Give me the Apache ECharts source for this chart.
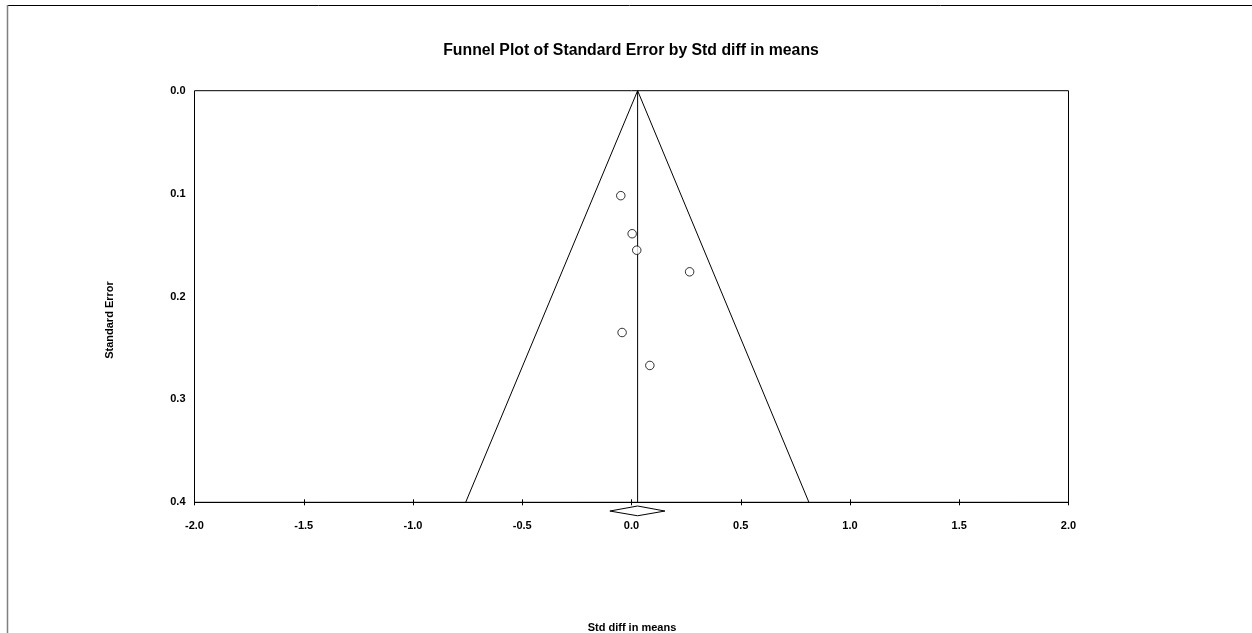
<!DOCTYPE html>
<html>
<head>
<meta charset="utf-8">
<style>
html,body{margin:0;padding:0;background:#fff;}
#chart{width:1252px;height:633px;}
</style>
<script src="https://cdn.jsdelivr.net/npm/echarts@6/dist/echarts.min.js"></script>
</head>
<body>
<div id="chart"></div>
<script>
// Study points: [Std diff in means, Standard Error]
var studyEffects = [-0.049, 0.003, 0.024, 0.266, -0.043, 0.084];
var studyStdErrors = [0.102, 0.139, 0.155, 0.176, 0.235, 0.267];
// Summary effect and funnel (95% limits at SE 0.4)
var summaryEffect = 0.028;
var funnelX = [-0.759, 0.028, 0.812];
var funnelY = [0.4, 0.0, 0.4];
// Summary diamond (below the axis)
var diamondX = [-0.099, 0.028, 0.153, 0.028, -0.099];
var diamondY = [0.4085, 0.4036, 0.4085, 0.4131, 0.4085];
var xTicks = [-2.0, -1.5, -1.0, -0.5, 0.0, 0.5, 1.0, 1.5, 2.0];
var yTicks = [0.0, 0.1, 0.2, 0.3, 0.4];

var FONT = '"Liberation Sans", Arial, sans-serif';
var chart = echarts.init(document.getElementById('chart'), null, {renderer: 'canvas'});

function zip(a, b) { return a.map(function (v, i) { return [v, b[i]]; }); }

var option = {
  animation: false,
  backgroundColor: '#ffffff',
  title: {
    text: 'Funnel Plot of Standard Error by Std diff in means',
    left: 626, top: 38, textAlign: 'center',
    textStyle: {fontFamily: FONT, fontSize: 15.8, fontWeight: 'bold', color: '#000'}
  },
  grid: {
    left: 194.5, right: 183.5, top: 90.7, bottom: 130.7,
    show: true, borderColor: '#000', borderWidth: 1, backgroundColor: 'transparent'
  },
  xAxis: [{
    type: 'value', min: xTicks[0], max: xTicks[xTicks.length - 1], interval: 0.5,
    position: 'bottom',
    axisLine: {show: true, onZero: false, lineStyle: {color: '#000', width: 1}},
    axisTick: {show: true, inside: false, length: 3, lineStyle: {color: '#000'}},
    splitLine: {show: false},
    axisLabel: {
      margin: 18, fontFamily: FONT, fontSize: 11, fontWeight: 'bold', color: '#000',
      formatter: function (v) { return v.toFixed(1); }
    }
  }, {
    type: 'value', min: xTicks[0], max: xTicks[xTicks.length - 1], interval: 0.5,
    position: 'bottom',
    axisLine: {show: false, onZero: false},
    axisTick: {show: true, inside: true, length: 3, lineStyle: {color: '#000'}},
    splitLine: {show: false},
    axisLabel: {show: false}
  }],
  yAxis: {
    type: 'value', min: yTicks[0], max: yTicks[yTicks.length - 1], interval: 0.1,
    inverse: true,
    axisLine: {show: false, onZero: false},
    axisTick: {show: false},
    splitLine: {show: false},
    axisLabel: {
      margin: 9, fontFamily: FONT, fontSize: 11, fontWeight: 'bold', color: '#000',
      formatter: function (v) { return v.toFixed(1); }
    }
  },
  graphic: [
    {type: 'line', shape: {x1: 7, y1: 5.5, x2: 1252, y2: 5.5}, style: {stroke: '#000', lineWidth: 1}},
    {type: 'line', shape: {x1: 7.5, y1: 5, x2: 7.5, y2: 633}, style: {stroke: '#808080', lineWidth: 1.5}},
    {type: 'text', x: 632, y: 628, style: {text: 'Std diff in means', fontFamily: FONT, fontSize: 11, fontWeight: 'bold', fill: '#000', textAlign: 'center', textVerticalAlign: 'middle'}},
    {type: 'text', x: 110, y: 320, rotation: Math.PI / 2, style: {text: 'Standard Error', fontFamily: FONT, fontSize: 11, fontWeight: 'bold', fill: '#000', textAlign: 'center', textVerticalAlign: 'middle'}}
  ],
  series: [
    {
      type: 'line', data: zip(funnelX, funnelY), symbol: 'none',
      lineStyle: {color: '#000', width: 1}, silent: true, z: 2
    },
    {
      type: 'line', data: [[summaryEffect, yTicks[0]], [summaryEffect, yTicks[yTicks.length - 1]]], symbol: 'none',
      lineStyle: {color: '#000', width: 1}, silent: true, z: 2
    },
    {
      type: 'line', data: zip(diamondX, diamondY), symbol: 'none', clip: false,
      lineStyle: {color: '#000', width: 1}, silent: true, z: 2
    },
    {
      type: 'scatter', data: zip(studyEffects, studyStdErrors), symbol: 'circle', symbolSize: 8.5,
      itemStyle: {color: '#fff', borderColor: '#000', borderWidth: 1}, z: 3
    }
  ]
};
chart.setOption(option);
</script>
</body>
</html>
